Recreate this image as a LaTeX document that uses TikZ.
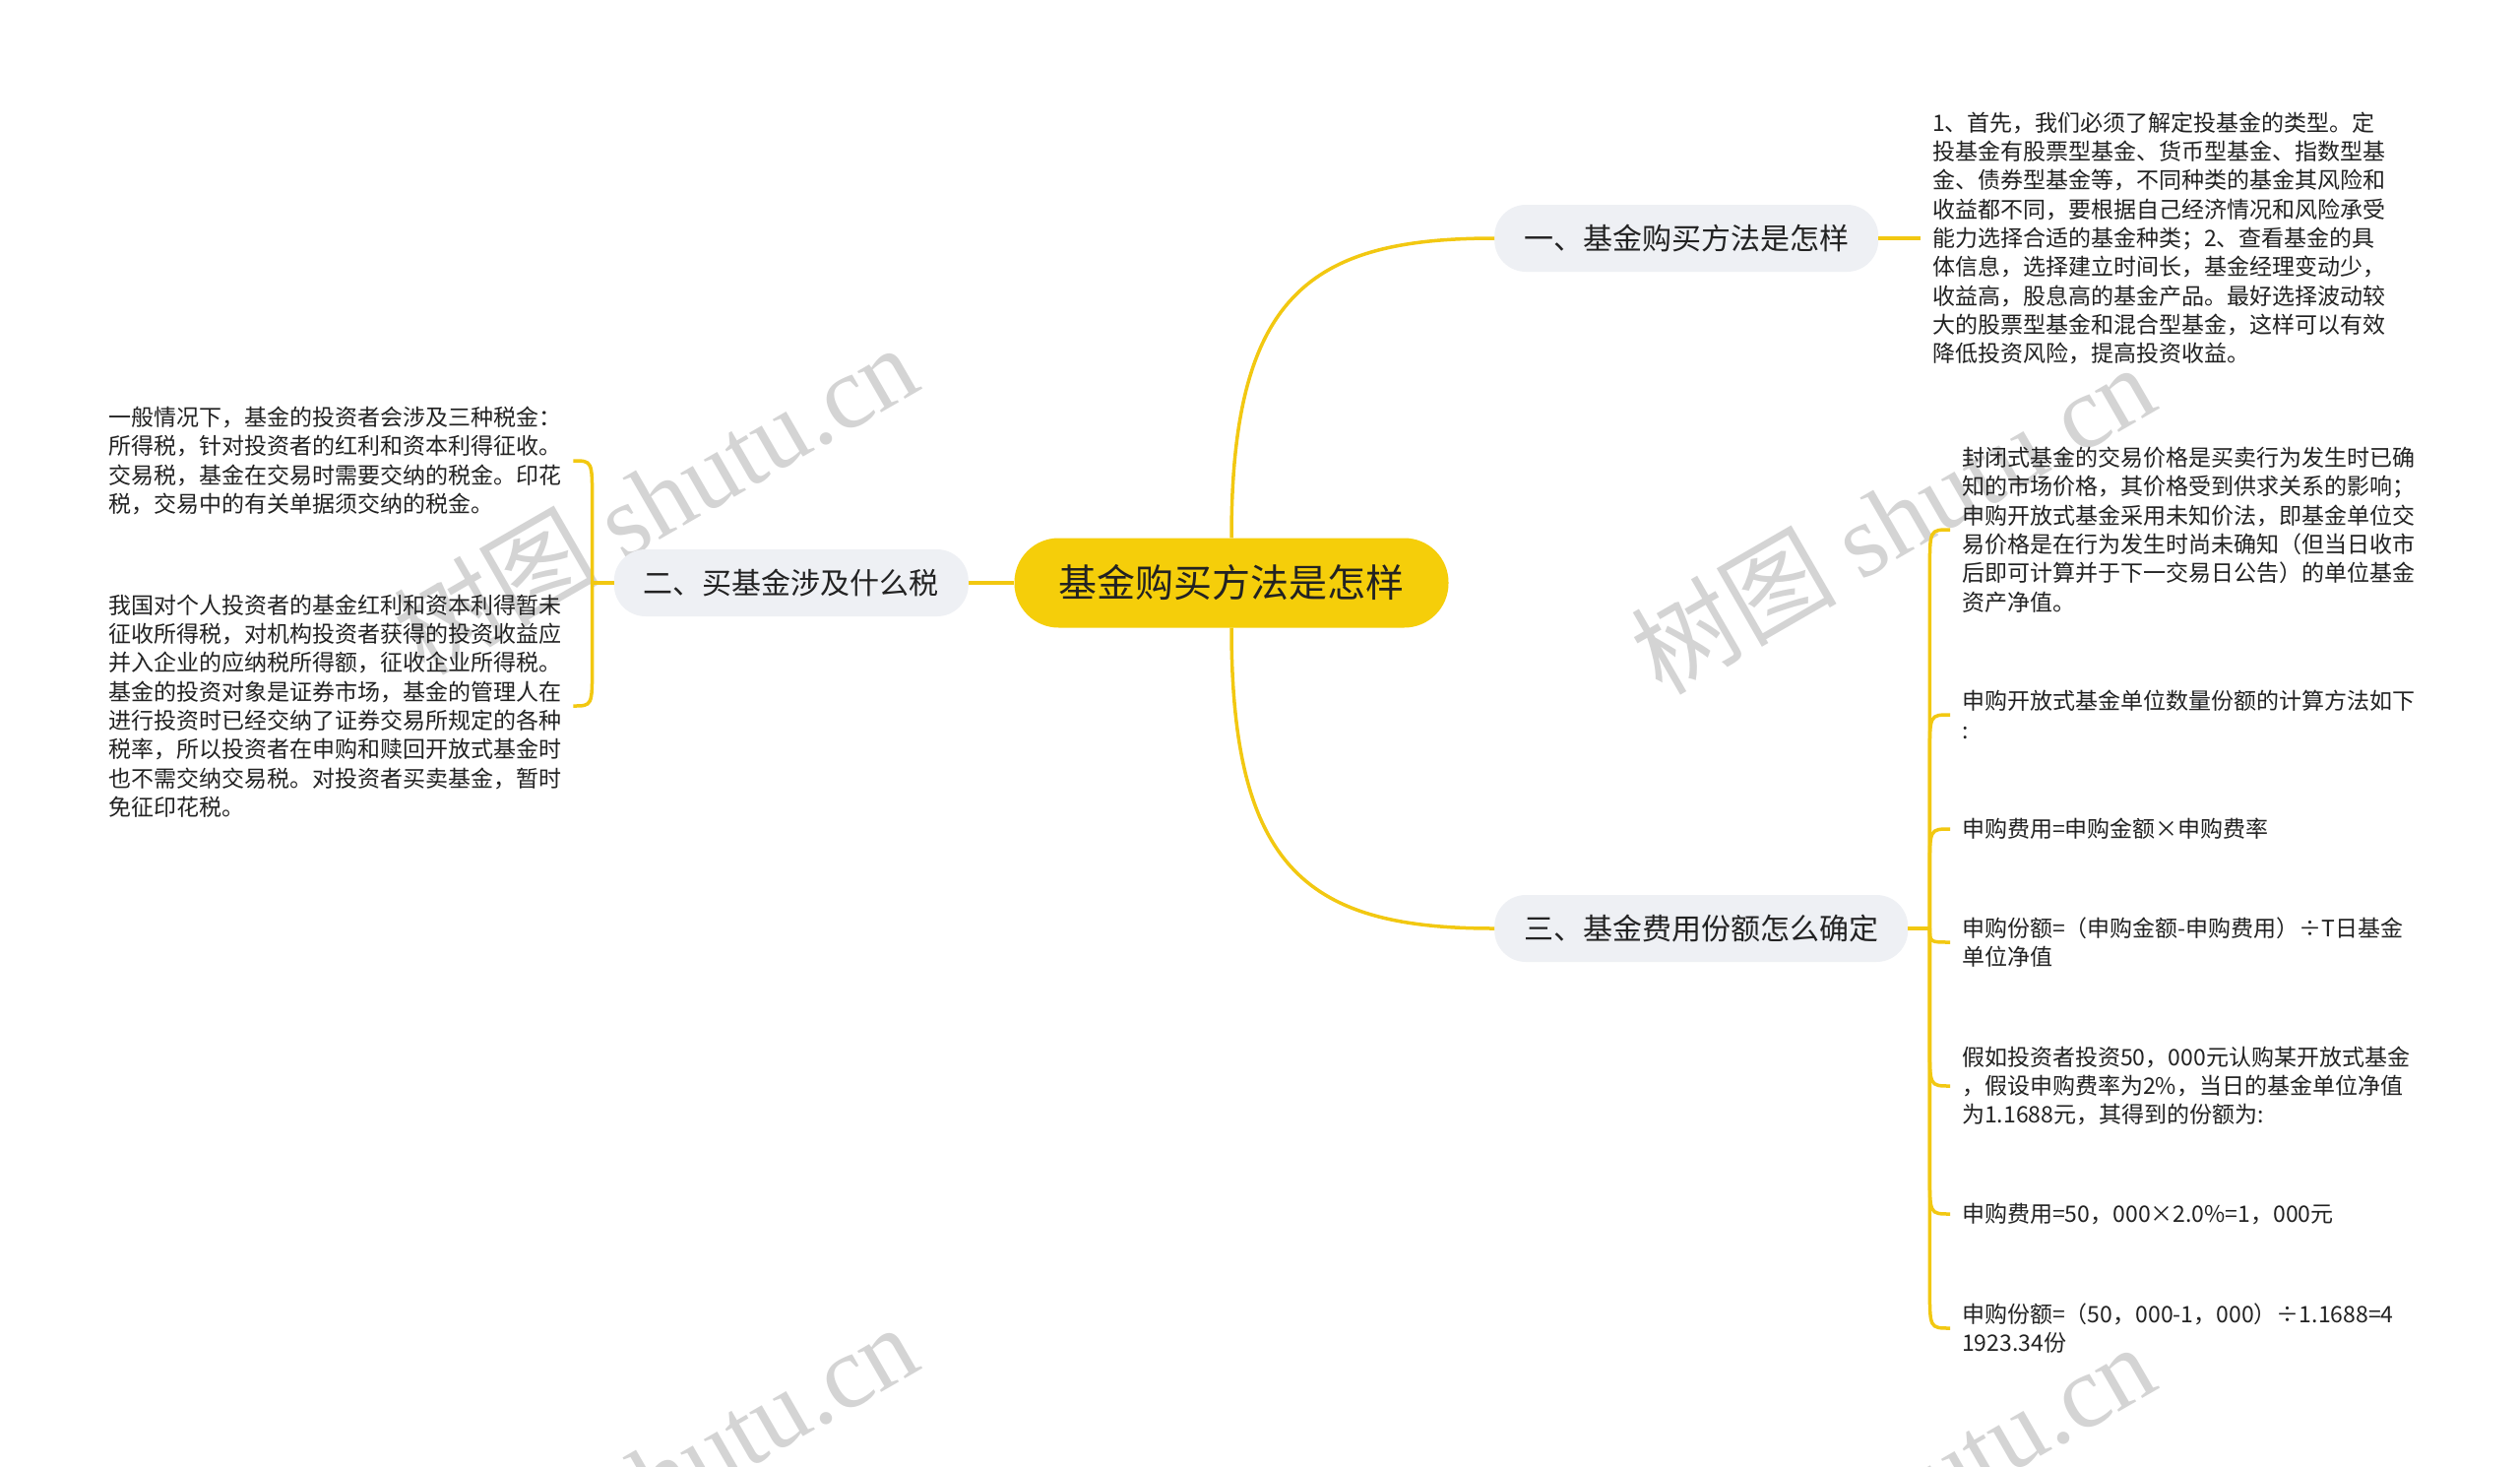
\documentclass[tikz,border=0pt]{standalone}
\usepackage{fontspec}
\setmainfont{Noto Sans CJK SC}
\newfontfamily\wmlatin{Liberation Serif}
\usetikzlibrary{calc}
\definecolor{lineY}{HTML}{F2C811}
\definecolor{mainY}{HTML}{F5CE0A}
\definecolor{branchG}{HTML}{EEF0F4}
\definecolor{txt}{HTML}{222222}
\definecolor{wmG}{HTML}{D4D4D4}
\begin{document}
\begin{tikzpicture}[x=1pt,y=-1pt,
  conn/.style={draw=lineY, line width=3.5pt},
  rootbox/.style={fill=mainY, rounded corners=45pt, minimum height=91pt, inner xsep=45pt, inner ysep=0pt, font=\fontsize{39}{46}\selectfont, text=txt},
  branchbox/.style={fill=branchG, rounded corners=32pt, minimum height=68pt, inner xsep=30pt, inner ysep=0pt, font=\fontsize{30}{36}\selectfont, text=txt},
  leaf/.style={align=left, inner xsep=12pt, inner ysep=0pt, font=\fontsize{23}{29.3}\selectfont, text=txt},
  wm/.style={text=wmG, rotate=30, font=\fontsize{105}{110}\selectfont, inner sep=0pt}]
\useasboundingbox (0,0) rectangle (2560,1489);
\fill[white] (0,0) rectangle (2560,1489);
% watermarks
\node[wm] (wm1) at (665,506) {树图 {\wmlatin shutu.cn}};
\node[wm] (wm2) at (1922,526) {树图 {\wmlatin shutu.cn}};
\node[wm] (wm3) at (665,1501) {树图 {\wmlatin shutu.cn}};
\node[wm] (wm4) at (1922,1521) {树图 {\wmlatin shutu.cn}};
% main nodes
\node[rootbox] (root) at (1251,592) {基金购买方法是怎样};
\node[branchbox, anchor=west] (b1) at (1518,242) {一、基金购买方法是怎样};
\node[branchbox, anchor=east] (b2) at (984,592) {二、买基金涉及什么税};
\node[branchbox, anchor=west] (b3) at (1518,943) {三、基金费用份额怎么确定};
% leaves
\node[leaf, anchor=west] (l1) at (1951,242) {%
1、首先，我们必须了解定投基金的类型。定\\%
投基金有股票型基金、货币型基金、指数型基\\%
金、债券型基金等，不同种类的基金其风险和\\%
收益都不同，要根据自己经济情况和风险承受\\%
能力选择合适的基金种类；2、查看基金的具\\%
体信息，选择建立时间长，基金经理变动少，\\%
收益高，股息高的基金产品。最好选择波动较\\%
大的股票型基金和混合型基金，这样可以有效\\%
降低投资风险，提高投资收益。};
\node[leaf, anchor=west] (l2a) at (98,468) {%
一般情况下，基金的投资者会涉及三种税金：\\%
所得税，针对投资者的红利和资本利得征收。\\%
交易税，基金在交易时需要交纳的税金。印花\\%
税，交易中的有关单据须交纳的税金。};
\node[leaf, anchor=west] (l2b) at (98,717) {%
我国对个人投资者的基金红利和资本利得暂未\\%
征收所得税，对机构投资者获得的投资收益应\\%
并入企业的应纳税所得额，征收企业所得税。\\%
基金的投资对象是证券市场，基金的管理人在\\%
进行投资时已经交纳了证券交易所规定的各种\\%
税率，所以投资者在申购和赎回开放式基金时\\%
也不需交纳交易税。对投资者买卖基金，暂时\\%
免征印花税。};
\node[leaf, anchor=west] (l3a) at (1981,538) {%
封闭式基金的交易价格是买卖行为发生时已确\\%
知的市场价格，其价格受到供求关系的影响；\\%
申购开放式基金采用未知价法，即基金单位交\\%
易价格是在行为发生时尚未确知（但当日收市\\%
后即可计算并于下一交易日公告）的单位基金\\%
资产净值。};
\node[leaf, anchor=west] (l3b) at (1981,726) {%
申购开放式基金单位数量份额的计算方法如下\\%
:};
\node[leaf, anchor=west] (l3c) at (1981,842) {申购费用=申购金额×申购费率};
\node[leaf, anchor=west] (l3d) at (1981,957) {%
申购份额=（申购金额-申购费用）÷T日基金\\%
单位净值};
\node[leaf, anchor=west] (l3e) at (1981,1103) {%
假如投资者投资50，000元认购某开放式基金\\%
，假设申购费率为2\%，当日的基金单位净值\\%
为1.1688元，其得到的份额为:};
\node[leaf, anchor=west] (l3f) at (1981,1233) {申购费用=50，000×2.0\%=1，000元};
\node[leaf, anchor=west] (l3g) at (1981,1349) {%
申购份额=（50，000-1，000）÷1.1688=4\\%
1923.34份};
% connectors
\draw[conn] (root.north) .. controls (1251,300) and (1330,242) .. (b1.west);
\draw[conn] (root.south) .. controls (1251,885) and (1330,943) .. (b3.west);
\draw[conn] (root.west) -- (b2.east);
\draw[conn] (b1.east) -- (l1.west);
\coordinate (s2) at ($(b2.west)+(-22,0)$);
\coordinate (s3) at ($(b3.east)+(22,0)$);
\draw[conn] (b2.west) -- (s2);
\draw[conn] (s2) -- ($(s2 |- l2a.east)+(0,40)$) .. controls (s2 |- l2a.east) .. (l2a.east);
\draw[conn] (s2) -- ($(s2 |- l2b.east)+(0,-40)$) .. controls (s2 |- l2b.east) .. (l2b.east);
\draw[conn] (b3.east) -- (s3);
\draw[conn] (s3) -- ($(s3 |- l3a.west)+(0,40)$) .. controls (s3 |- l3a.west) .. (l3a.west);
\draw[conn] (s3) -- ($(s3 |- l3b.west)+(0,40)$) .. controls (s3 |- l3b.west) .. (l3b.west);
\draw[conn] (s3) -- ($(s3 |- l3c.west)+(0,40)$) .. controls (s3 |- l3c.west) .. (l3c.west);
\draw[conn] (s3) .. controls (s3 |- l3d.west) .. (l3d.west);
\draw[conn] (s3) -- ($(s3 |- l3e.west)+(0,-40)$) .. controls (s3 |- l3e.west) .. (l3e.west);
\draw[conn] (s3) -- ($(s3 |- l3f.west)+(0,-40)$) .. controls (s3 |- l3f.west) .. (l3f.west);
\draw[conn] (s3) -- ($(s3 |- l3g.west)+(0,-40)$) .. controls (s3 |- l3g.west) .. (l3g.west);
\end{tikzpicture}
\end{document}
